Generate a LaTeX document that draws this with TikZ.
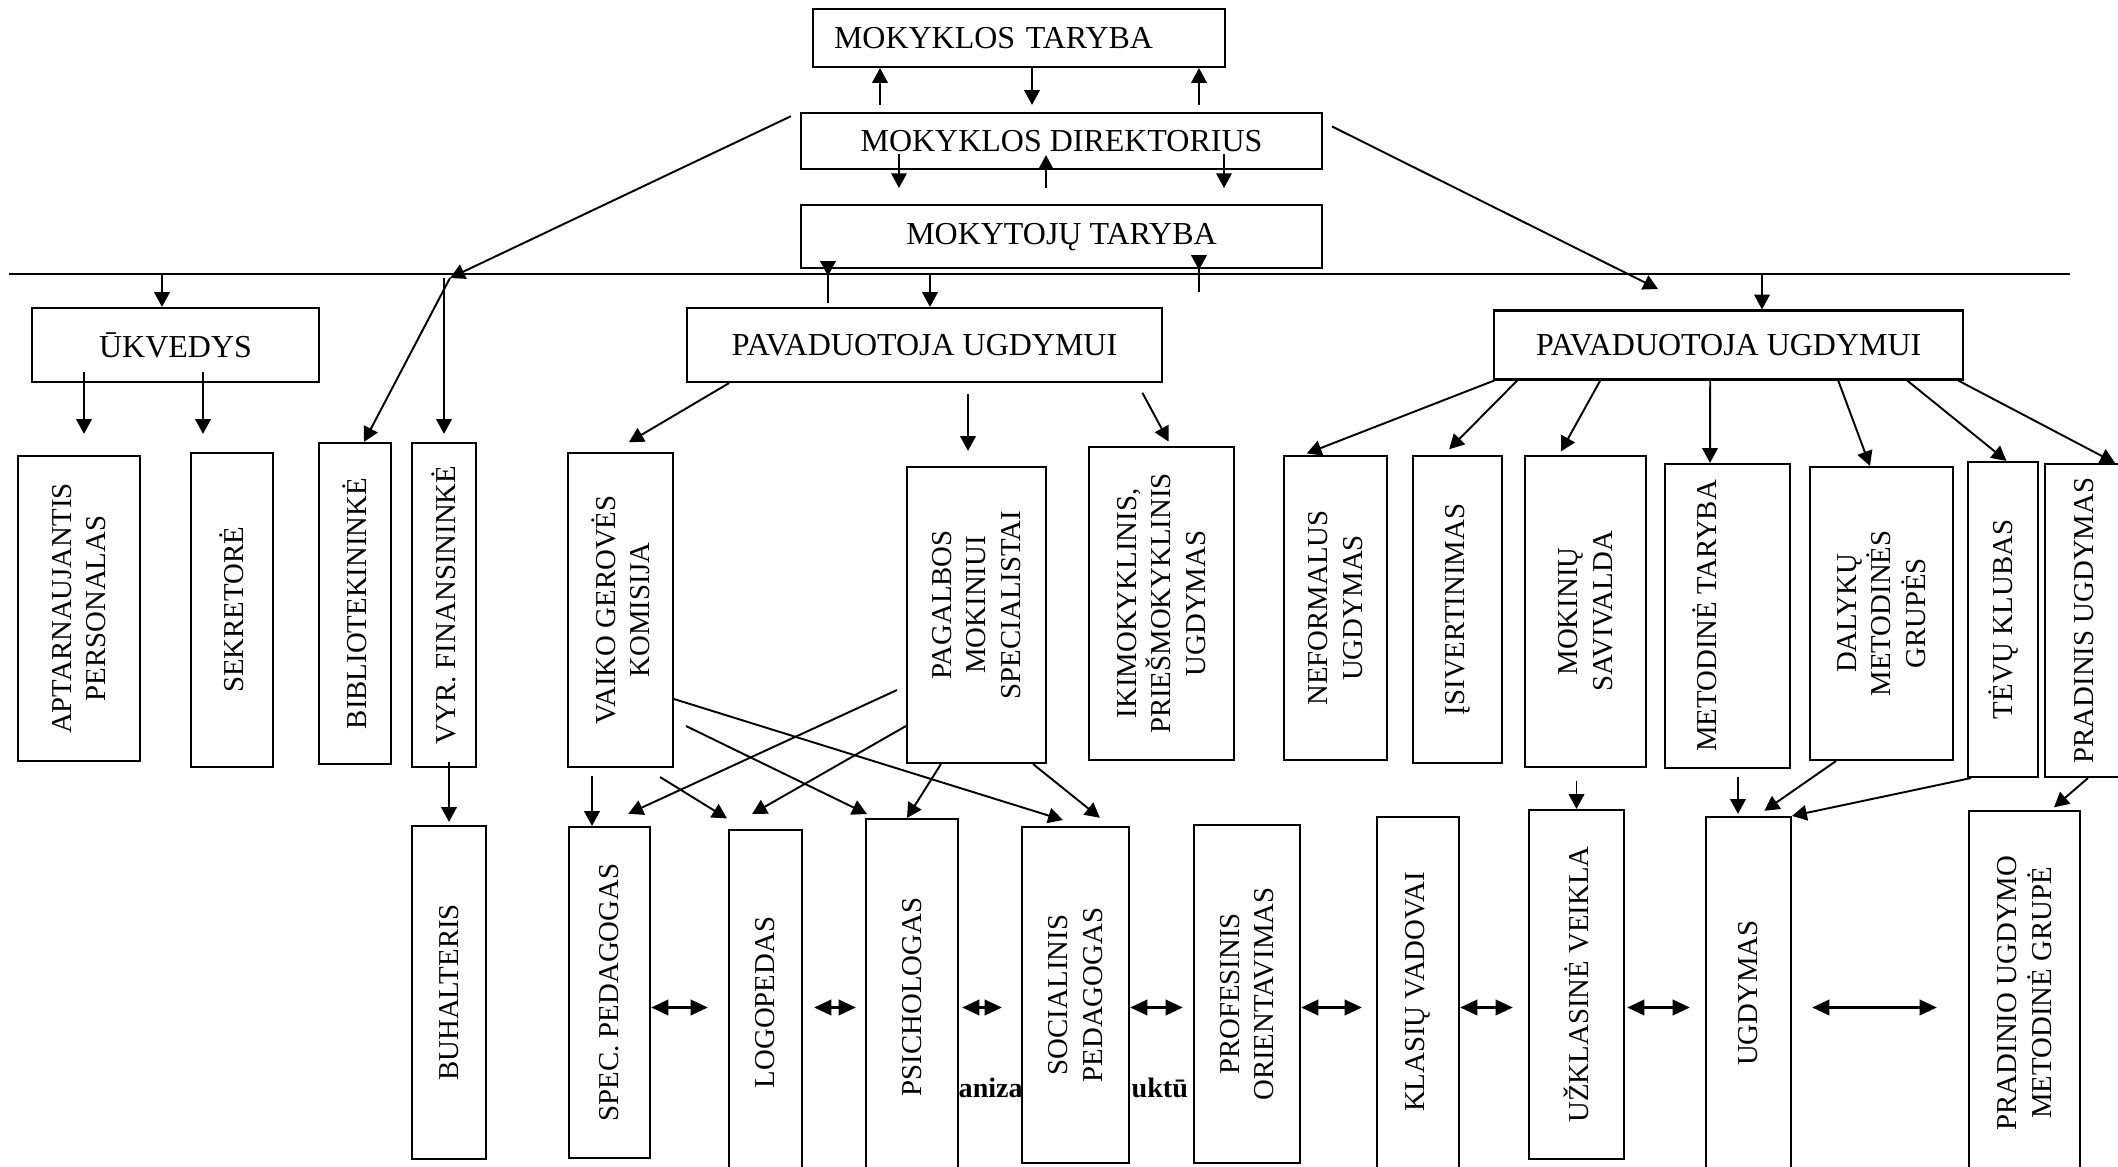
\documentclass[tikz,border=0pt]{standalone}
\usepackage{fontspec}
\setmainfont{Liberation Serif}
\usetikzlibrary{arrows.meta,positioning}

\begin{document}
\begin{tikzpicture}[
        box/.style={draw, fill=white, line width=0.6pt, inner sep=0pt},
        htxt/.style={font=\fontsize{9.1}{11}\selectfont},
        vtxt/.style={rotate=90, align=center, inner sep=0pt, font=\fontsize{8.2}{9.8}\selectfont},
        frag/.style={font=\fontsize{8}{9.6}\selectfont\bfseries, inner sep=0pt, anchor=base west},
        arr/.style={line width=0.55pt, -{Triangle[length=4.2pt, width=4.4pt]}},
        dbl/.style={line width=0.9pt, {Triangle[length=4.9pt, width=4.3pt]}-{Triangle[length=4.9pt, width=4.3pt]}}
    ]
        \useasboundingbox (0,0) rectangle (21.18,-11.67);
        \node[frag] (f1) at (9.58,-10.98) {aniza};
        \node[frag] (f2) at (11.31,-10.98) {uktū};
        \node[box, htxt, minimum height=0.58cm, text width=3.70cm, inner xsep=0.21cm, align=left] (mt) at (10.19,-0.38) {MOKYKLOS TARYBA};
        \node[box, htxt, minimum width=5.21cm, minimum height=0.56cm] (md) at (10.615,-1.41) {MOKYKLOS DIREKTORIUS};
        \node[box, htxt, minimum width=5.21cm, minimum height=0.63cm, below=0.34cm of md] (mk) {MOKYTOJŲ TARYBA};
        \coordinate (l1) at (0.09,-2.74);
        \coordinate (l2) at (20.70,-2.74);
        \coordinate (j1) at (4.50,-2.78);
        \coordinate (j2) at (16.58,-2.89);
        \node[box, htxt, minimum width=2.87cm, minimum height=0.74cm] (ukv) at (1.755,-3.45) {ŪKVEDYS};
        \node[box, htxt, minimum width=4.75cm, minimum height=0.74cm, right=3.66cm of ukv] (pav1) {PAVADUOTOJA UGDYMUI};
        \node[box, htxt, minimum width=4.69cm, minimum height=0.69cm, right=3.30cm of pav1] (pav2) {PAVADUOTOJA UGDYMUI};
        \node[box, minimum width=1.22cm, minimum height=3.05cm, label={[vtxt]center:APTARNAUJANTIS\\PERSONALAS}] (apt) at (0.79,-6.085) {};
        \node[box, minimum width=0.82cm, minimum height=3.14cm, label={[vtxt]center:SEKRETORĖ}] (sek) at (2.32,-6.10) {};
        \node[box, minimum width=0.72cm, minimum height=3.21cm, label={[vtxt]center:BIBLIOTEKININKĖ}] (bib) at (3.55,-6.035) {};
        \node[box, minimum width=0.64cm, minimum height=3.24cm, label={[vtxt]center:VYR. FINANSININKĖ}] (fin) at (4.44,-6.05) {};
        \node[box, minimum width=1.05cm, minimum height=3.14cm, label={[vtxt]center:VAIKO GEROVĖS\\KOMISIJA}] (vgk) at (6.205,-6.10) {};
        \node[box, minimum width=1.39cm, minimum height=2.96cm, label={[yshift=0.1cm, vtxt]center:PAGALBOS\\MOKINIUI\\SPECIALISTAI}] (pms) at (9.765,-6.15) {};
        \node[box, minimum width=1.45cm, minimum height=3.13cm, label={[vtxt]center:{IKIMOKYKLINIS,\\PRIEŠMOKYKLINIS\\UGDYMAS}}] (iki) at (11.615,-6.035) {};
        \node[box, minimum width=1.03cm, minimum height=3.04cm, label={[vtxt]center:NEFORMALUS\\UGDYMAS}] (nef) at (13.355,-6.08) {};
        \node[box, minimum width=0.89cm, minimum height=3.07cm, label={[vtxt]center:ĮSIVERTINIMAS}] (isv) at (14.575,-6.095) {};
        \node[box, minimum width=1.21cm, minimum height=3.11cm, label={[vtxt]center:MOKINIŲ\\SAVIVALDA}] (sav) at (15.855,-6.115) {};
        \node[box, minimum width=1.25cm, minimum height=3.04cm, label={[xshift=-0.225cm, vtxt]center:METODINĖ TARYBA}] (met) at (17.275,-6.16) {};
        \node[box, minimum width=1.43cm, minimum height=2.93cm, label={[vtxt]center:DALYKŲ\\METODINĖS\\GRUPĖS}] (dal) at (18.815,-6.135) {};
        \node[box, minimum width=0.70cm, minimum height=3.15cm, label={[vtxt]center:TĖVŲ KLUBAS}] (tev) at (20.03,-6.195) {};
        \node[box, minimum width=0.78cm, minimum height=3.13cm, label={[vtxt]center:PRADINIS UGDYMAS}] (pra) at (20.84,-6.205) {};
        \node[box, minimum width=0.74cm, minimum height=3.33cm, label={[vtxt]center:BUHALTERIS}] (buh) at (4.49,-9.925) {};
        \node[box, minimum width=0.81cm, minimum height=3.31cm, label={[vtxt]center:SPEC. PEDAGOGAS}] (spe) at (6.095,-9.925) {};
        \node[box, minimum width=0.73cm, minimum height=3.45cm, label={[vtxt]center:LOGOPEDAS}] (log) at (7.655,-10.025) {};
        \node[box, minimum width=0.92cm, minimum height=3.56cm, label={[vtxt]center:PSICHOLOGAS}] (psi) at (9.12,-9.97) {};
        \node[box, minimum width=1.07cm, minimum height=3.36cm, label={[vtxt]center:SOCIALINIS\\PEDAGOGAS}] (soc) at (10.755,-9.95) {};
        \node[box, minimum width=1.06cm, minimum height=3.38cm, label={[vtxt]center:PROFESINIS\\ORIENTAVIMAS}] (pro) at (12.47,-9.94) {};
        \node[box, minimum width=0.82cm, minimum height=3.58cm, label={[yshift=0.04cm, vtxt]center:KLASIŲ VADOVAI}] (kla) at (14.18,-9.96) {};
        \node[box, minimum width=0.95cm, minimum height=3.49cm, label={[vtxt]center:UŽKLASINĖ VEIKLA}] (uzk) at (15.765,-9.845) {};
        \node[box, minimum width=0.85cm, minimum height=3.58cm, label={[yshift=0.03cm, vtxt]center:UGDYMAS}] (ugd) at (17.485,-9.96) {};
        \node[box, minimum width=1.11cm, minimum height=3.64cm, label={[vtxt]center:PRADINIO UGDYMO\\METODINĖ GRUPĖ}] (pug) at (20.245,-9.93) {};
        \draw[line width=0.6pt] (l1) -- (l2);
        \draw[arr, shorten <=0.07cm] (md.north -| 8.80,0) -- (mt.south -| 8.80,0);
        \draw[arr, shorten >=0.07cm] (mt.south -| 10.32,0) -- (md.north -| 10.32,0);
        \draw[arr, shorten <=0.07cm] (md.north -| 11.99,0) -- (mt.south -| 11.99,0);
        \draw[arr, shorten <=-0.16cm, shorten >=0.16cm] (md.south -| 8.99,0) -- (mk.north -| 8.99,0);
        \draw[arr, shorten <=0.16cm, shorten >=-0.15cm] (mk.north -| 10.46,0) -- (md.south -| 10.46,0);
        \draw[arr, shorten <=-0.16cm, shorten >=0.16cm] (md.south -| 12.24,0) -- (mk.north -| 12.24,0);
        \draw[arr, shorten <=-0.34cm, shorten >=-0.02cm] (mk.south -| 8.28,0) -- (l1 -| 8.28,0);
        \draw[arr, shorten <=-0.23cm, shorten >=0.04cm] (mk.south -| 11.99,0) -- (l1 -| 11.99,0);
        \draw[arr, shorten <=0.1cm] (md.north west) -- (j1);
        \draw[arr, shorten <=0.1cm] ([yshift=0.19cm]md.east) -- (j2);
        \draw[arr] (j1) -- ([xshift=0.09cm]bib.north);
        \draw[arr, shorten >=0.08cm] (j1 -| fin.north) -- (fin.north);
        \draw[arr] (l1 -| 1.62,0) -- (ukv.north -| 1.62,0);
        \draw[arr] (l1 -| 9.30,0) -- (pav1.north -| 9.30,0);
        \draw[arr] (l1 -| 17.62,0) -- (pav2.north -| 17.62,0);
        \draw[arr, shorten <=-0.11cm, shorten >=0.21cm] (ukv.south -| 0.84,0) -- (apt.north -| 0.84,0);
        \draw[arr, shorten <=-0.11cm, shorten >=0.18cm] (ukv.south -| 2.03,0) -- (sek.north -| 2.03,0);
        \draw[arr, shorten >=0.19cm] ([xshift=-1.955cm]pav1.south) -- ([xshift=-0.08cm]vgk.north);
        \draw[arr, shorten <=0.11cm, shorten >=0.15cm] (pav1.south -| 9.68,0) -- (pms.north -| 9.68,0);
        \draw[arr, shorten <=0.11cm, shorten >=0.05cm] ([xshift=2.125cm]pav1.south) -- ([xshift=0.095cm]iki.north);
        \draw[arr, shorten >=0.04cm] ([xshift=-2.345cm]pav2.south) -- ([xshift=-0.325cm]nef.north);
        \draw[arr, shorten >=0.08cm] ([xshift=-2.115cm]pav2.south) -- ([xshift=-0.14cm]isv.north);
        \draw[arr, shorten >=0.04cm] ([xshift=-1.285cm]pav2.south) -- ([xshift=-0.265cm]sav.north);
        \draw[arr] ([xshift=-0.185cm]pav2.south) -- ([xshift=-0.175cm]met.north);
        \draw[arr] ([xshift=1.095cm]pav2.south) -- ([xshift=-0.115cm]dal.north);
        \draw[arr] ([xshift=1.785cm]pav2.south) -- ([xshift=0.035cm]tev.north);
        \draw[arr] ([xshift=2.295cm]pav2.south) -- ([xshift=0.31cm]pra.north);
        \draw[arr, shorten <=-0.06cm, shorten >=0.03cm] (fin.south -| buh.north) -- (buh.north);
        \draw[arr, shorten <=0.08cm] (vgk.south -| 5.92,0) -- (spe.north -| 5.92,0);
        \draw[arr, shorten >=0.2cm] ([yshift=0.69cm]vgk.south east) -- ([xshift=0.065cm]soc.north);
        \draw[arr, shorten >=0.09cm] ([xshift=0.12cm, yshift=0.42cm]vgk.south east) -- ([xshift=-0.37cm]psi.north);
        \draw[arr, shorten >=0.2cm] ([xshift=-0.14cm, yshift=-0.09cm]vgk.south east) -- ([xshift=-0.215cm]log.north);
        \draw[arr, shorten >=0.29cm] ([xshift=-0.09cm, yshift=0.74cm]pms.south west) -- ([xshift=-0.075cm]spe.north);
        \draw[arr, shorten >=0.3cm] ([yshift=0.38cm]pms.south west) -- ([xshift=-0.395cm]log.north);
        \draw[arr] ([xshift=0.35cm]pms.south west) -- ([xshift=-0.05cm]psi.north);
        \draw[arr, shorten >=0.13cm] ([xshift=-0.14cm]pms.south east) -- ([xshift=0.345cm]soc.north);
        \draw[arr, shorten <=0.13cm] (sav.south -| uzk.north) -- (uzk.north);
        \draw[arr, shorten <=0.08cm, shorten >=0.02cm] (met.south -| 17.38,0) -- (ugd.north -| 17.38,0);
        \draw[arr, shorten >=0.09cm] ([xshift=-0.455cm]dal.south) -- ([xshift=0.085cm]ugd.north);
        \draw[arr] ([xshift=-0.32cm]tev.south) -- (ugd.north east);
        \draw[arr, shorten >=0.04cm] ([xshift=0.04cm]pra.south) -- ([xshift=0.265cm]pug.north);
        \draw[dbl, shorten >=0.2cm] (spe.east |- 0,-10.075) -- (log.west |- 0,-10.075);
        \draw[dbl, shorten <=0.11cm, shorten >=0.09cm] (log.east |- 0,-10.075) -- (psi.west |- 0,-10.075);
        \draw[dbl, shorten <=0.03cm, shorten >=0.19cm] (psi.east |- 0,-10.075) -- (soc.west |- 0,-10.075);
        \draw[dbl, shorten >=0.1cm] (soc.east |- 0,-10.075) -- (pro.west |- 0,-10.075);
        \draw[dbl, shorten >=0.14cm] (pro.east |- 0,-10.075) -- (kla.west |- 0,-10.075);
        \draw[dbl, shorten >=0.15cm] (kla.east |- 0,-10.075) -- (uzk.west |- 0,-10.075);
        \draw[dbl, shorten <=0.02cm, shorten >=0.15cm] (uzk.east |- 0,-10.075) -- (ugd.west |- 0,-10.075);
        \draw[dbl, shorten <=0.2cm, shorten >=0.31cm] (ugd.east |- 0,-10.075) -- (pug.west |- 0,-10.075);
    \end{tikzpicture}
\end{document}
